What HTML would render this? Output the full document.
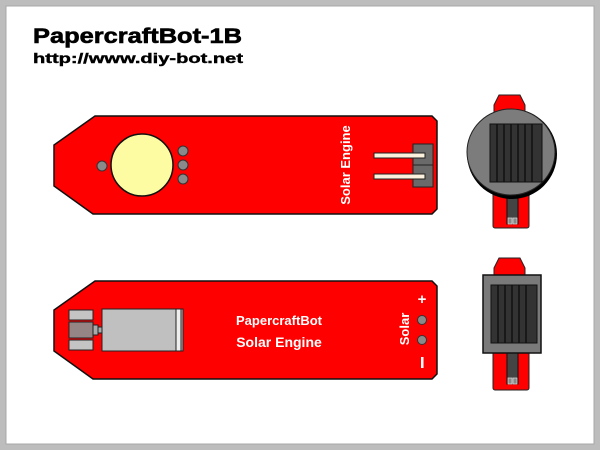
<!DOCTYPE html>
<html><head><style>
html,body{margin:0;padding:0;width:600px;height:450px;overflow:hidden;background:#c0c0c0}
svg{display:block}
text{font-family:"Liberation Sans",Arial,sans-serif;font-weight:bold}
</style></head><body>
<svg width="600" height="450" viewBox="0 0 600 450">
<rect x="0" y="0" width="600" height="450" fill="#bdbdbd"/>
<rect x="6" y="6" width="588" height="438" fill="#fff" stroke="#a8a8a8" stroke-width="1"/>
<text x="33" y="43" font-size="21" fill="#000" textLength="209" lengthAdjust="spacingAndGlyphs" stroke="#000" stroke-width="0.6">PapercraftBot-1B</text>
<text x="33" y="63" font-size="14" fill="#000" textLength="210" lengthAdjust="spacingAndGlyphs" stroke="#000" stroke-width="0.4">http://www.diy-bot.net</text>

<!-- top board -->
<polygon points="95,116 432,116 437,121 437,209 432,214 93,214 54,186 54,145" fill="#ff0000" stroke="#111" stroke-width="1.5"/>
<circle cx="142" cy="165" r="31" fill="#fdfca2" stroke="#111" stroke-width="1.5"/>
<g fill="#8a8a8a" stroke="#333" stroke-width="1">
<circle cx="102" cy="166" r="5"/><circle cx="183" cy="151" r="5"/><circle cx="183" cy="165" r="5"/><circle cx="183" cy="179" r="5"/>
</g>
<rect x="413" y="144" width="20" height="43" fill="#6a6a6a" stroke="#222" stroke-width="1"/>
<line x1="413" y1="165" x2="433" y2="165" stroke="#222"/>
<rect x="374" y="153" width="51" height="5" fill="#fbf1dc" stroke="#222" stroke-width="1"/>
<rect x="374" y="174" width="51" height="5" fill="#fbf1dc" stroke="#222" stroke-width="1"/>
<text x="0" y="0" font-size="13" fill="#fff" text-anchor="middle" transform="translate(350,165) rotate(-90)">Solar Engine</text>

<!-- bottom board -->
<polygon points="95,281 432,281 437,286 437,374 432,379 93,379 54,351 54,310" fill="#ff0000" stroke="#111" stroke-width="1.5"/>
<rect x="69" y="310" width="24" height="10" fill="#c4c4c4" stroke="#222"/>
<rect x="69" y="322" width="24" height="16" fill="#958585" stroke="#222"/>
<rect x="69" y="340" width="24" height="10" fill="#c4c4c4" stroke="#222"/>
<rect x="93" y="325" width="5" height="10" fill="#aaa" stroke="#222"/>
<rect x="98" y="327" width="4" height="6" fill="#aaa" stroke="#222"/>
<rect x="102" y="309" width="81" height="42" fill="#c0c0c0" stroke="#222"/>
<rect x="176" y="309" width="5" height="42" fill="#eee" stroke="#222"/>
<text x="279" y="325" font-size="13" fill="#fff" text-anchor="middle">PapercraftBot</text>
<text x="279" y="347" font-size="14" fill="#fff" text-anchor="middle">Solar Engine</text>
<circle cx="422" cy="320" r="4.5" fill="#8a8a8a" stroke="#333"/>
<circle cx="422" cy="340" r="4.5" fill="#8a8a8a" stroke="#333"/>
<text x="422" y="304" font-size="15" fill="#fff" text-anchor="middle">+</text>
<rect x="421" y="357" width="2.5" height="11" fill="#fff"/>
<text x="0" y="0" font-size="13" fill="#fff" text-anchor="middle" transform="translate(409,329) rotate(-90)">Solar</text>

<!-- right top -->
<polygon points="499,95 520,95 525,105 525,112 494,112 494,105" fill="#ff0000" stroke="#222"/>
<rect x="493" y="192" width="36" height="36" rx="2" fill="#ff0000" stroke="#222"/>
<rect x="507" y="194" width="11" height="30" fill="#444" stroke="#111"/>
<rect x="508" y="218" width="4" height="6" fill="#888" stroke="#ddd" stroke-width="0.7"/>
<rect x="513" y="218" width="4" height="6" fill="#888" stroke="#ddd" stroke-width="0.7"/>
<ellipse cx="512" cy="154" rx="45" ry="45" fill="#000"/>
<ellipse cx="511" cy="152" rx="44" ry="43" fill="#7c7c7c" stroke="#222"/>
<rect x="490" y="124" width="52" height="58" fill="#333" stroke="#111"/>
<g stroke="#111" stroke-width="1.5">
<line x1="497" y1="124" x2="497" y2="182"/><line x1="504" y1="124" x2="504" y2="182"/><line x1="511" y1="124" x2="511" y2="182"/><line x1="518" y1="124" x2="518" y2="182"/><line x1="525" y1="124" x2="525" y2="182"/><line x1="532" y1="124" x2="532" y2="182"/>
</g>

<!-- right bottom -->
<polygon points="499,258 520,258 525,268 525,280 494,280 494,268" fill="#ff0000" stroke="#222"/>
<rect x="493" y="346" width="36" height="44" rx="2" fill="#ff0000" stroke="#222"/>
<rect x="507" y="348" width="11" height="36" fill="#444" stroke="#111"/>
<rect x="508" y="378" width="4" height="6" fill="#888" stroke="#ddd" stroke-width="0.7"/>
<rect x="513" y="378" width="4" height="6" fill="#888" stroke="#ddd" stroke-width="0.7"/>
<rect x="483" y="275" width="58" height="78" fill="#7a7a7a" stroke="#111" stroke-width="1.5"/>
<rect x="491" y="285" width="46" height="58" fill="#333" stroke="#111"/>
<g stroke="#111" stroke-width="1.5">
<line x1="498" y1="285" x2="498" y2="343"/><line x1="505" y1="285" x2="505" y2="343"/><line x1="512" y1="285" x2="512" y2="343"/><line x1="519" y1="285" x2="519" y2="343"/><line x1="526" y1="285" x2="526" y2="343"/>
</g>
</svg>
</body></html>
